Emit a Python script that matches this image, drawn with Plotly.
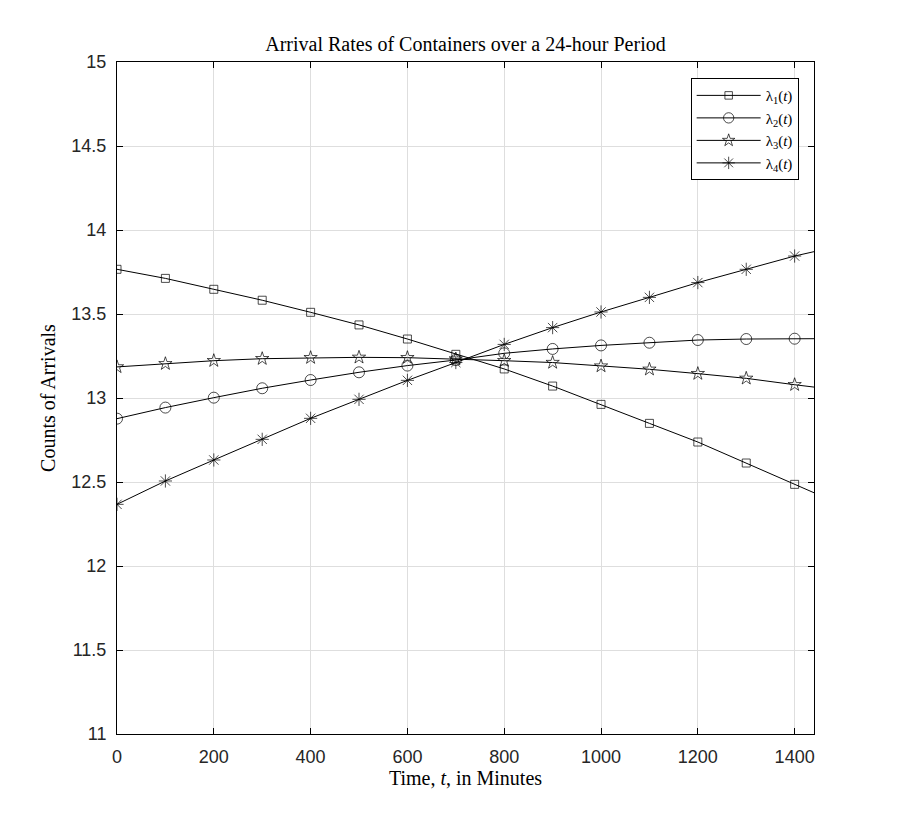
import plotly.graph_objects as go

# time grid (minutes); markers every 100 min, line runs to 1440
t = [0, 100, 200, 300, 400, 500, 600, 700, 800, 900, 1000, 1100, 1200, 1300, 1400, 1440]

lam1 = [13.766, 13.712, 13.647, 13.582, 13.510, 13.435, 13.351, 13.260,
        13.173, 13.071, 12.962, 12.849, 12.738, 12.613, 12.486, 12.436]
lam2 = [12.877, 12.943, 13.002, 13.058, 13.107, 13.153, 13.193, 13.226,
        13.266, 13.292, 13.313, 13.329, 13.345, 13.351, 13.353, 13.353]
lam3 = [13.185, 13.204, 13.222, 13.234, 13.240, 13.242, 13.240, 13.232,
        13.222, 13.211, 13.190, 13.171, 13.145, 13.117, 13.079, 13.065]
lam4 = [12.367, 12.506, 12.631, 12.754, 12.879, 12.992, 13.105, 13.211,
        13.319, 13.419, 13.512, 13.599, 13.687, 13.766, 13.845, 13.871]

names = ["λ<sub>1</sub>(<i>t</i>)", "λ<sub>2</sub>(<i>t</i>)",
         "λ<sub>3</sub>(<i>t</i>)", "λ<sub>4</sub>(<i>t</i>)"]
symbols = ["square-open", "circle-open", "star-open", "asterisk-open"]
msizes = [8, 11, 10, 11]

serif = "Liberation Serif, Times New Roman, serif"
sans = "Liberation Sans, Arial, sans-serif"

fig = go.Figure()
for y, name, sym, ms in zip([lam1, lam2, lam3, lam4], names, symbols, msizes):
    # no marker on the last (1440) point
    sizes = [ms] * (len(t) - 1) + [0]
    fig.add_trace(go.Scatter(
        x=t, y=y, name=name, mode="lines+markers",
        line=dict(color="black", width=1),
        marker=dict(symbol=sym, size=sizes, color="black",
                    line=dict(color="black", width=1)),
    ))

axis_common = dict(
    showline=True, linecolor="black", linewidth=1, mirror="ticks",
    ticks="inside", ticklen=6, tickcolor="black",
    showgrid=True, gridcolor="#dedede", gridwidth=1, zeroline=False,
    tickfont=dict(family=sans, size=18, color="#262626"),
)

fig.update_layout(
    width=900, height=825,
    paper_bgcolor="white", plot_bgcolor="white",
    margin=dict(l=109, r=94, t=54, b=99),
    title=dict(text="Arrival Rates of Containers over a 24-hour Period",
               x=0.5, xref="paper", y=0.956, yanchor="middle",
               font=dict(family=serif, size=20, color="black")),
    xaxis=dict(range=[0, 1440], dtick=200, tick0=0, ticklabelstandoff=6,
               title=dict(text="Time, <i>t</i>, in Minutes", standoff=4,
                          font=dict(family=serif, size=20, color="black")),
               **axis_common),
    yaxis=dict(range=[11, 15], dtick=0.5, tick0=11, ticklabelstandoff=6,
               title=dict(text="Counts of Arrivals", standoff=10,
                          font=dict(family=serif, size=20, color="black")),
               **axis_common),
    legend=dict(x=0.978, y=0.976, xanchor="right", yanchor="top",
                bgcolor="white", bordercolor="black", borderwidth=1,
                font=dict(family=serif, size=15, color="black"),
                tracegroupgap=0, itemwidth=64),
    showlegend=True,
)

fig.write_html("out.html")
